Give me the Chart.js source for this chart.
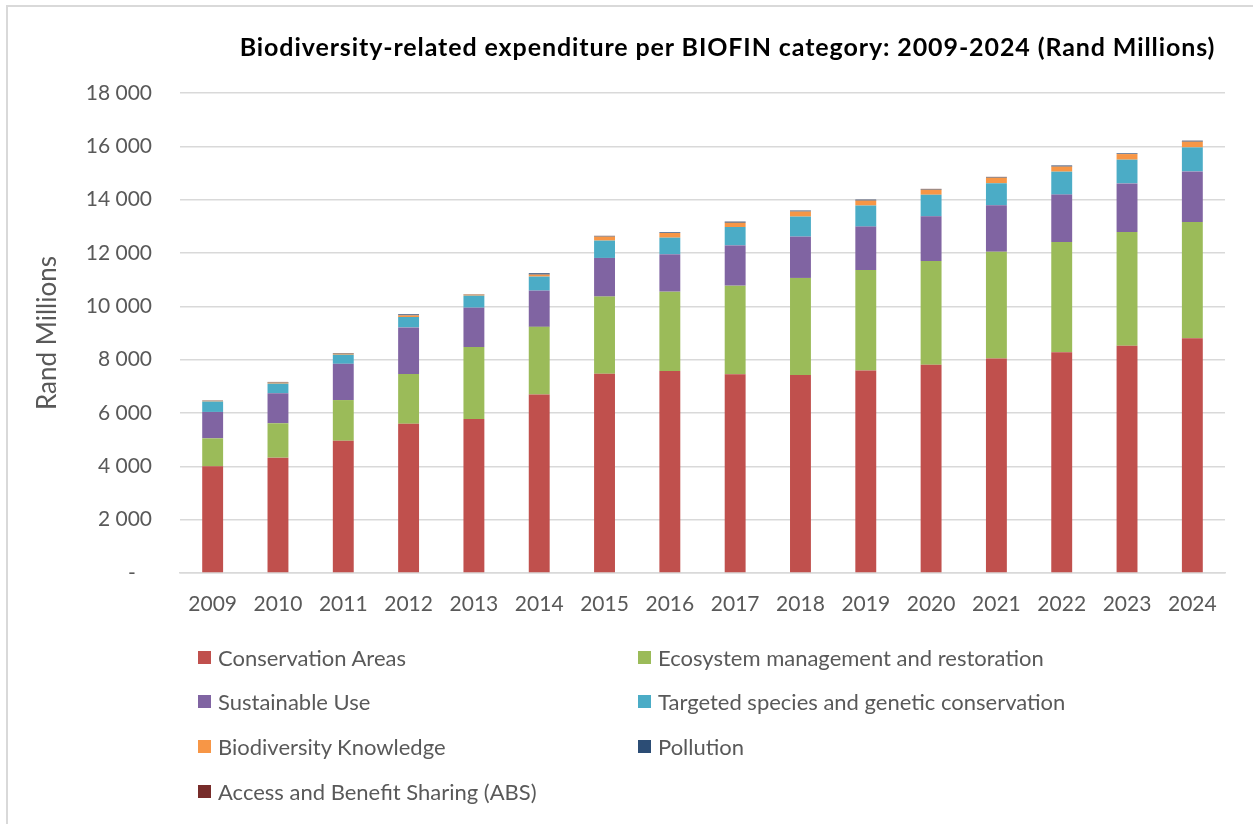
<!DOCTYPE html>
<html>
<head>
<meta charset="utf-8">
<script src="https://cdn.jsdelivr.net/npm/chart.js@4.4.1/dist/chart.umd.min.js"></script>
<style>
  html, body { margin: 0; padding: 0; background: #ffffff; }
  body { width: 1253px; height: 824px; position: relative; overflow: hidden; font-family: Lato, "Open Sans", sans-serif; }
  #frame { position: absolute; left: 6px; top: 5px; width: 1300px; height: 900px; border-top: 2px solid #d9d9d9; border-left: 2px solid #d9d9d9; box-sizing: border-box; }
  #chart { position: absolute; left: 0; top: 0; }
  #title { position: absolute; left: 0; width: 1455px; top: 30px; text-align: center; font-weight: 700; font-size: 25px; letter-spacing: 0.9px; color: #000; line-height: 32px; white-space: nowrap; }
  #legend { position: absolute; left: 198px; top: 645px; display: grid; grid-template-columns: 440px 440px; grid-auto-rows: 44.8px; }
  .item { display: flex; align-items: center; height: 24px; font-size: 22px; color: #595959; white-space: nowrap; }
  .sw { width: 13px; height: 13px; margin-right: 7px; flex: none; }
</style>
</head>
<body>
<div id="frame"></div>
<canvas id="chart" width="1253" height="824"></canvas>
<div id="title">Biodiversity-related expenditure per BIOFIN category: 2009-2024 (Rand Millions)</div>
<div id="legend"></div>
<script>
// Years on the category axis
const years = ['2009','2010','2011','2012','2013','2014','2015','2016','2017','2018','2019','2020','2021','2022','2023','2024'];

// Expenditure per BIOFIN category, Rand millions
const conservationAreas = [4000, 4325, 4960, 5600, 5775, 6690, 7475, 7575, 7450, 7425, 7590, 7810, 8040, 8275, 8525, 8800];
const ecosystemManagement = [1050, 1290, 1525, 1860, 2700, 2540, 2890, 2975, 3325, 3640, 3775, 3890, 4010, 4140, 4260, 4360];
const sustainableUse = [990, 1125, 1360, 1750, 1475, 1360, 1450, 1400, 1510, 1550, 1625, 1675, 1740, 1775, 1825, 1900];
const targetedSpecies = [390, 360, 340, 390, 450, 525, 650, 625, 690, 750, 790, 810, 825, 860, 890, 900];
const biodiversityKnowledge = [30, 40, 40, 60, 40, 75, 150, 175, 160, 190, 185, 190, 210, 190, 210, 215];
const pollution = [10, 20, 20, 40, 10, 50, 25, 25, 40, 35, 35, 25, 25, 40, 25, 35];
const accessBenefitSharing = [5, 5, 5, 5, 5, 5, 5, 5, 5, 5, 5, 5, 5, 5, 5, 5];

// Value-axis tick labels, from 0 to 18 000 in steps of 2 000
const yTickLabels = ['-   ', '2 000', '4 000', '6 000', '8 000', '10 000', '12 000', '14 000', '16 000', '18 000'];

const seriesNames = ['Conservation Areas', 'Ecosystem management and restoration', 'Sustainable Use',
  'Targeted species and genetic conservation', 'Biodiversity Knowledge', 'Pollution', 'Access and Benefit Sharing (ABS)'];
const seriesValues = [conservationAreas, ecosystemManagement, sustainableUse, targetedSpecies,
  biodiversityKnowledge, pollution, accessBenefitSharing];
const seriesColors = ['#C0504D', '#9BBB59', '#8064A2', '#4BACC6', '#F79646', '#2C4D75', '#772C2A'];

const textColor = '#595959';
const gridColor = '#d9d9d9';

function buildLegend() {
  const box = document.getElementById('legend');
  seriesNames.forEach((name, i) => {
    const item = document.createElement('div');
    item.className = 'item';
    const sw = document.createElement('span');
    sw.className = 'sw';
    sw.style.background = seriesColors[i];
    const label = document.createElement('span');
    label.textContent = name;
    item.appendChild(sw);
    item.appendChild(label);
    box.appendChild(item);
  });
}

function draw() {
  buildLegend();
  new Chart(document.getElementById('chart'), {
    type: 'bar',
    data: {
      labels: years,
      datasets: seriesNames.map((name, i) => ({
        label: name,
        data: seriesValues[i],
        backgroundColor: seriesColors[i],
        borderWidth: 0,
        barPercentage: 0.32,
        categoryPercentage: 1.0
      }))
    },
    options: {
      responsive: false,
      animation: false,
      devicePixelRatio: 1,
      layout: { padding: { left: 0, right: 28, top: 93, bottom: 191 } },
      plugins: {
        legend: { display: false },
        title: { display: false },
        tooltip: { enabled: false }
      },
      scales: {
        x: {
          stacked: true,
          grid: { display: false, drawTicks: false },
          border: { display: true, color: gridColor, width: 1.5 },
          ticks: { color: textColor, font: { family: 'Lato', size: 21 }, padding: 19, maxRotation: 0, autoSkip: false },
          afterFit: (s) => { s.height = 60; }
        },
        y: {
          stacked: true,
          min: 0,
          max: 18000,
          grid: { color: gridColor, lineWidth: 1.5, drawTicks: false },
          border: { display: false },
          ticks: {
            stepSize: 2000,
            color: textColor,
            font: { family: 'Lato', size: 21 },
            padding: 28,
            callback: (v) => yTickLabels[Math.round(v / 2000)]
          },
          title: {
            display: true,
            text: 'Rand Millions',
            color: textColor,
            font: { family: 'Lato', size: 26 },
            padding: { top: 32, bottom: 0 }
          },
          afterFit: (s) => { s.width = 180; }
        }
      }
    }
  });
}

if (document.fonts && document.fonts.load) {
  Promise.all([
    document.fonts.load('21px Lato'),
    document.fonts.load('700 25px Lato')
  ]).then(draw, draw);
} else {
  draw();
}
</script>
</body>
</html>
